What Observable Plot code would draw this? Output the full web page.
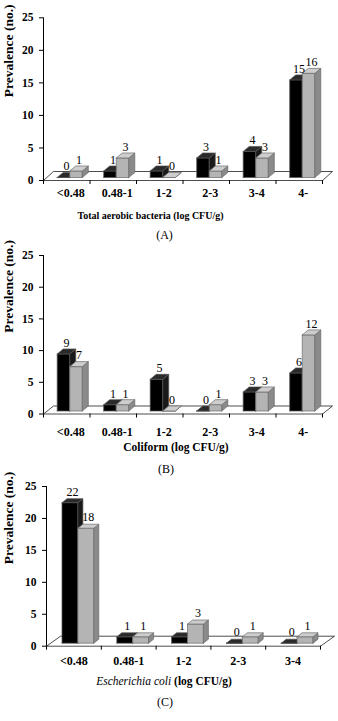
<!DOCTYPE html>
<html>
<head>
<meta charset="utf-8">
<script src="https://cdn.jsdelivr.net/npm/d3@7"></script>
<script src="https://cdn.jsdelivr.net/npm/@observablehq/plot@0.6"></script>
<style>
  body { margin: 0; background: #fff; }
  #page { position: relative; width: 338px; height: 721px; overflow: hidden;
          font-family: "Liberation Serif", "Times New Roman", serif; color: #000; }
  .block { position: absolute; left: 0; }
  .note { position: absolute; white-space: nowrap; transform: translate(-50%, -50%); line-height: 1; }
  .xtitle { font-weight: bold; }
  .xtitle i { font-weight: normal; }
  .cap { font-size: 12px; }
</style>
</head>
<body>
<div id="page"></div>
<script>
// Concentration classes (log CFU/g)
const classesSix = ["<0.48", "0.48-1", "1-2", "2-3", "3-4", "4-"];
const classesFive = ["<0.48", "0.48-1", "1-2", "2-3", "3-4"];

// Prevalence (number of samples) per class, two sample groups
const aerobicGroup1 = [0, 1, 1, 3, 4, 15];
const aerobicGroup2 = [1, 3, 0, 1, 3, 16];
const coliformGroup1 = [9, 1, 5, 0, 3, 6];
const coliformGroup2 = [7, 1, 0, 1, 3, 12];
const ecoliGroup1 = [22, 1, 1, 0, 0];
const ecoliGroup2 = [18, 1, 3, 1, 1];

const yTicks = [0, 5, 10, 15, 20, 25];
const yTitle = "Prevalence (no.)";

const page = document.getElementById("page");

// Face colours of the pseudo-3D columns: front, side, top, edge
const shadesDark = { front: "#000000", side: "#1a1a1a", top: "#2a2a2a", edge: "#555555" };
const shadesLight = { front: "#b4b4b4", side: "#8a8a8a", top: "#cdcdcd", edge: "#6a6a6a" };

function panel(cfg) {
  const n = cfg.classes.length;
  const kx = (cfg.floorRight - cfg.axisX) / n;        // px per class
  const ky = (cfg.yZero - cfg.yTop) / 25;             // px per count
  const ux = px => px / kx;                           // screen px -> x units
  const uy = px => -px / ky;                          // screen px (down) -> y units
  const fdx = ux(cfg.floorDepth[0]), fdy = uy(cfg.floorDepth[1]);
  const pdx = ux(cfg.plane[0]), pdy = uy(cfg.plane[1]);
  const bdx = ux(cfg.barDepth[0]), bdy = uy(cfg.barDepth[1]);
  const w = cfg.barWidth;

  const faces = [];
  const poly = (id, pts, fill, stroke) =>
    pts.concat([pts[0]]).forEach(([x, y]) => faces.push({ id, x, y, fill, stroke }));

  // floor of the plot area
  poly("floor", [[-0.5, 0], [n - 0.5, 0], [n - 0.5 + fdx, fdy], [-0.5 + fdx, fdy]], "#ffffff", "#000000");

  const labels = [];
  cfg.classes.forEach((c, i) => {
    [[cfg.group1[i], -1, shadesDark], [cfg.group2[i], 0, shadesLight]].forEach(([v, side, s], k) => {
      const x0 = i + pdx + side * w, x1 = x0 + w;
      const y0 = pdy, y1 = pdy + v;
      const id = `${i}-${k}`;
      poly(id + "f", [[x0, y0], [x1, y0], [x1, y1], [x0, y1]], s.front, s.edge);
      poly(id + "s", [[x1, y0], [x1 + bdx, y0 + bdy], [x1 + bdx, y1 + bdy], [x1, y1]], s.side, s.edge);
      poly(id + "t", [[x0, y1], [x1, y1], [x1 + bdx, y1 + bdy], [x0 + bdx, y1 + bdy]], s.top, s.edge);
      labels.push({ x: x0 + w / 2 + bdx / 2, y: y1, text: String(v) });
    });
  });

  const bounds = d3.range(n + 1).map(i => i - 0.5);

  const chart = Plot.plot({
    width: 338,
    height: cfg.svgHeight,
    marginLeft: cfg.axisX,
    marginRight: 338 - cfg.floorRight,
    marginTop: cfg.yTop - cfg.svgTop,
    marginBottom: cfg.svgTop + cfg.svgHeight - cfg.yZero,
    x: { domain: [-0.5, n - 0.5], axis: null },
    y: { domain: [0, 25], axis: null },
    style: { fontFamily: '"Liberation Serif", "Times New Roman", serif', fontSize: "11.5px",
             color: "#000", background: "transparent", overflow: "visible" },
    marks: [
      Plot.line(faces, { x: "x", y: "y", z: "id", fill: "fill", stroke: "stroke",
                         strokeWidth: 0.7, strokeLinejoin: "round" }),
      Plot.ruleX([-0.5], { y1: 0, y2: 25, stroke: "#000", strokeWidth: 1 }),
      Plot.ruleX(bounds, { y1: 0, y2: uy(4), stroke: "#000", strokeWidth: 1 }),
      Plot.axisY(yTicks, { anchor: "left", tickSize: 4, tickPadding: 6, fontWeight: "bold",
                           fontSize: 11.5, label: null }),
      Plot.text(labels, { x: "x", y: "y", text: "text", dy: -11, fontSize: 12, fontWeight: "normal",
                          fill: "#000" }),
      Plot.text(cfg.classes, { x: (d, i) => i, y: () => 0, text: d => d, dx: cfg.labelShift,
                               dy: cfg.labelDrop, fontSize: 12, fontWeight: "bold" }),
      Plot.text([yTitle], { frameAnchor: "left", rotate: -90, dx: 8 - cfg.axisX, dy: -2,
                            fontSize: 13.5, fontWeight: "bold" })
    ]
  });

  const block = document.createElement("div");
  block.className = "block";
  block.style.top = cfg.svgTop + "px";
  block.appendChild(chart);
  page.appendChild(block);

  const title = document.createElement("div");
  title.className = "note xtitle";
  title.style.left = cfg.title.x + "px";
  title.style.top = cfg.title.y + "px";
  title.style.fontSize = cfg.title.size + "px";
  title.innerHTML = cfg.title.html;
  page.appendChild(title);

  const cap = document.createElement("div");
  cap.className = "note cap";
  cap.style.left = cfg.caption.x + "px";
  cap.style.top = cfg.caption.y + "px";
  cap.textContent = cfg.caption.text;
  page.appendChild(cap);
}

panel({
  classes: classesSix, group1: aerobicGroup1, group2: aerobicGroup2,
  svgTop: 0, svgHeight: 205, axisX: 43, floorRight: 322, yTop: 17.3, yZero: 180,
  floorDepth: [10, -9], plane: [3, -3], barDepth: [6, -5], barWidth: 0.27,
  labelShift: 4, labelDrop: 13,
  title: { html: "Total aerobic bacteria (log CFU/g)", x: 150.5, y: 215.5, size: 10 },
  caption: { text: "(A)", x: 164.5, y: 235 }
});

panel({
  classes: classesSix, group1: coliformGroup1, group2: coliformGroup2,
  svgTop: 240, svgHeight: 200, axisX: 43, floorRight: 322, yTop: 255, yZero: 413.5,
  floorDepth: [10, -8], plane: [3, -3], barDepth: [6, -5], barWidth: 0.27,
  labelShift: 4, labelDrop: 18,
  title: { html: "Coliform (log CFU/g)", x: 176, y: 448, size: 11.5 },
  caption: { text: "(B)", x: 166, y: 469 }
});

panel({
  classes: classesFive, group1: ecoliGroup1, group2: ecoliGroup2,
  svgTop: 480, svgHeight: 190, axisX: 46, floorRight: 320, yTop: 486, yZero: 645.7,
  floorDepth: [14, -10], plane: [4, -3], barDepth: [5, -4], barWidth: 0.29,
  labelShift: 0, labelDrop: 14.5,
  title: { html: "<i>Escherichia coli</i> (log CFU/g)", x: 164, y: 682, size: 11.5 },
  caption: { text: "(C)", x: 165, y: 702 }
});
</script>
</body>
</html>
